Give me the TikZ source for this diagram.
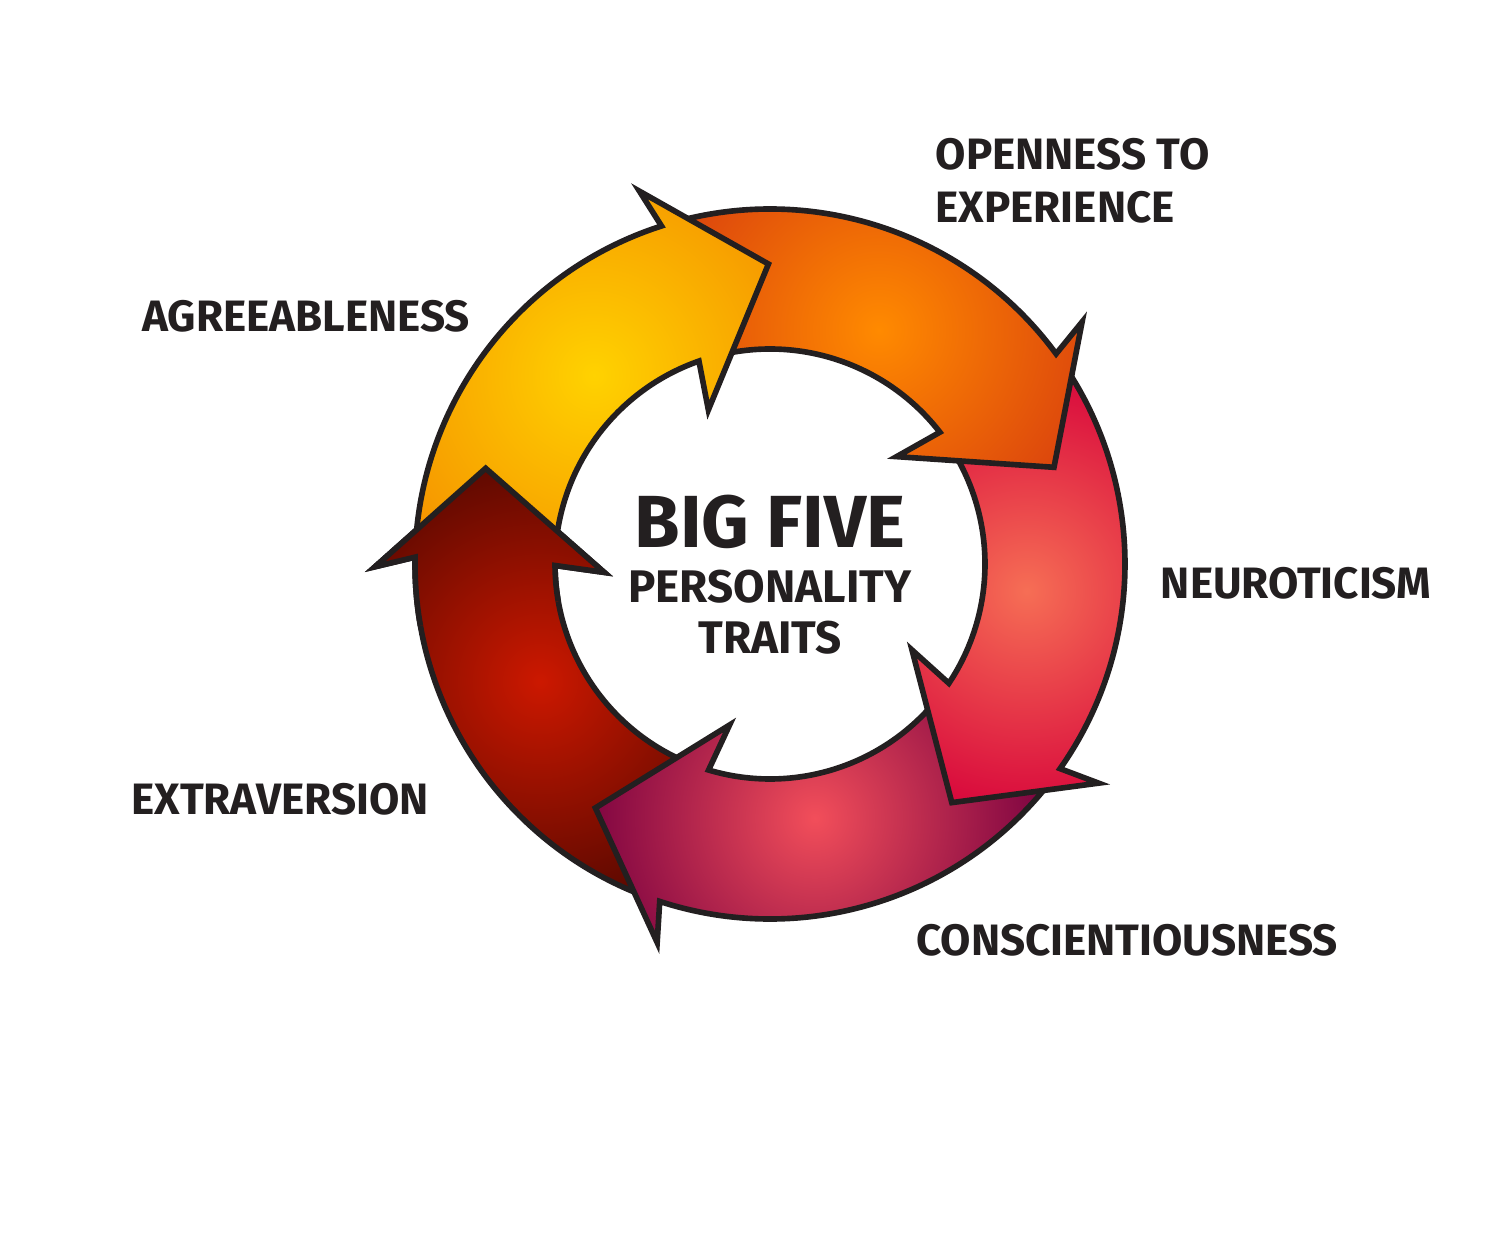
\documentclass[tikz,border=0pt]{standalone}
\usepackage{fontspec}
\setmainfont{Fira Sans}
\usetikzlibrary{positioning}

\definecolor{inkline}{HTML}{231F20}
\definecolor{yellowin}{HTML}{FFD200}
\definecolor{yellowout}{HTML}{F59200}
\definecolor{orangein}{HTML}{FF8A00}
\definecolor{orangeout}{HTML}{D9400E}
\definecolor{pinkin}{HTML}{F66E55}
\definecolor{pinkout}{HTML}{D6003A}
\definecolor{crimsonin}{HTML}{F24E5A}
\definecolor{crimsonout}{HTML}{780040}
\definecolor{darkredin}{HTML}{CC1800}
\definecolor{darkredout}{HTML}{560800}

% ring radii (px)
\newcommand{\rOut}{355}
\newcommand{\rIn}{215}
\newcommand{\rBo}{395}
\newcommand{\rBi}{166}
\newcommand{\rTip}{300}

% #1 tail angle, #2 barb angle
\newcommand{\arrowshape}[2]{(#1:\rOut) arc[start angle=#1, end angle=#2-1.5, radius=\rOut]
  -- (#2:\rBo) -- (#2-19:\rTip) -- (#2+2.5:\rBi) -- (#2:\rIn)
  arc[start angle=#2, end angle=#1, radius=\rIn] -- cycle}

% #1 tail, #2 barb, #3 glow angle, #4 inner colour, #5 outer colour
\newcommand{\ringarrow}[5]{%
  \begin{scope}
    \clip \arrowshape{#1}{#2};
    \shade[inner color=#4, outer color=#5] (#3:258) circle (240);
  \end{scope}
  \draw[arrowline] \arrowshape{#1}{#2};
}

\begin{document}
\begin{tikzpicture}[x=0.01cm, y=0.01cm,
    node distance = 2mm,
    arrowline/.style = {draw=inkline, line width=1.6pt, line join=miter},
    trait/.style = {font=\bfseries\fontsize{12.5}{15}\selectfont, text=inkline,
                    inner sep=0pt, align=left},
    title/.style = {font=\bfseries\fontsize{21}{24}\selectfont, text=inkline, inner sep=0pt},
    subtitle/.style = {font=\bfseries\fontsize{13}{14.5}\selectfont, text=inkline,
                    inner sep=0pt, align=center}]
  \useasboundingbox (0,0) rectangle (1500,1233);

  % cycle of five arrows
  \begin{scope}[shift={(770,669)}]
    \ringarrow{250.4}{180.4}{207}{darkredin}{darkredout}
    \ringarrow{-36.7}{-106.6}{-80}{crimsonin}{crimsonout}
    \ringarrow{34.8}{-33.7}{-6}{pinkin}{pinkout}
    \ringarrow{106.3}{37.8}{65}{orangein}{orangeout}
    \ringarrow{177.4}{109.3}{133}{yellowin}{yellowout}
    % dark red head lies over the yellow tail
    \begin{scope}
      \clip (0,0) -- (190:460) arc[start angle=190, end angle=155, radius=460] -- cycle;
      \ringarrow{250.4}{180.4}{207}{darkredin}{darkredout}
    \end{scope}
  \end{scope}

  % centre
  \node [title] (big) at (770,711) {BIG FIVE};
  \node [subtitle, below=of big] (traits) {PERSONALITY\\TRAITS};

  % labels
  \node [trait, anchor=west] (open) at (935,1052) {OPENNESS TO\\EXPERIENCE};
  \node [trait] (agree) at (306,917) {AGREEABLENESS};
  \node [trait] (neuro) at (1296,650) {NEUROTICISM};
  \node [trait] (extra) at (280,434) {EXTRAVERSION};
  \node [trait] (consc) at (1127,293) {CONSCIENTIOUSNESS};
\end{tikzpicture}
\end{document}
